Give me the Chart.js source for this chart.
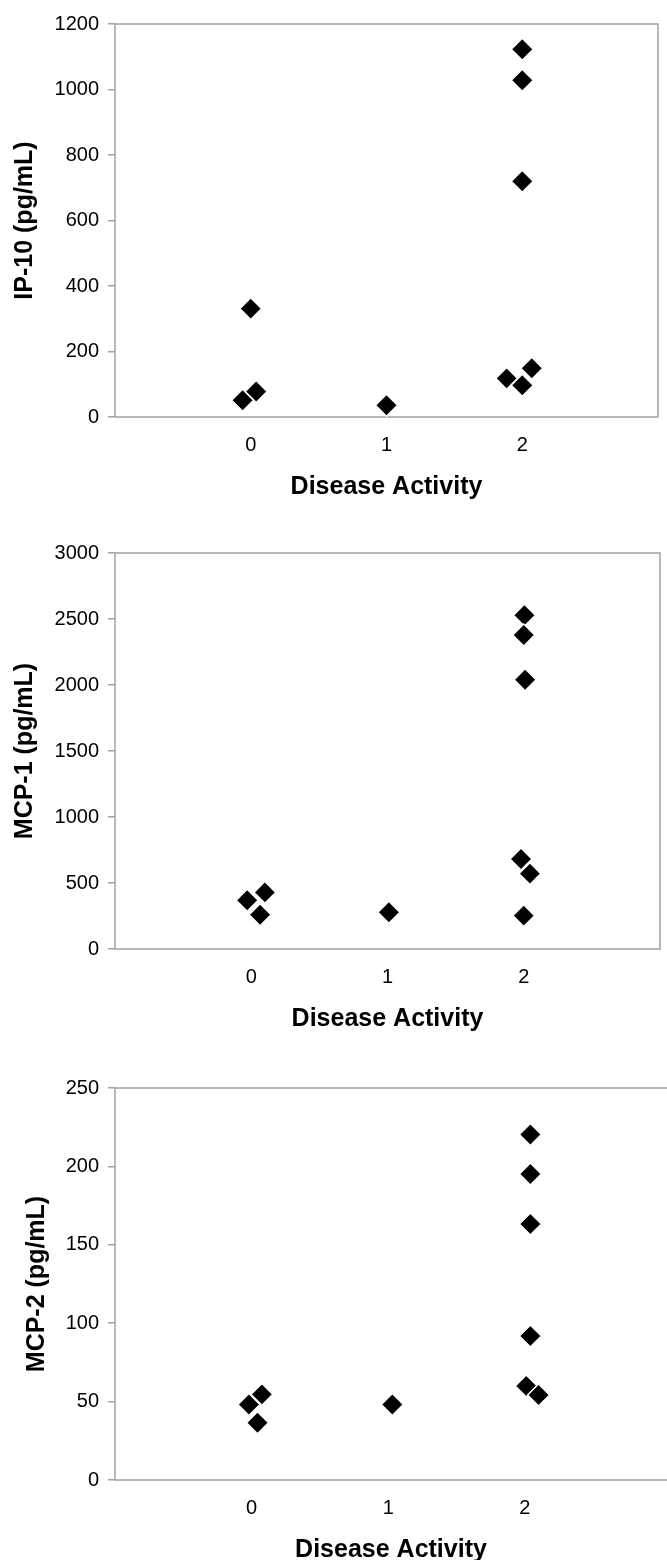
<!DOCTYPE html>
<html>
<head>
<meta charset="utf-8">
<script src="https://cdn.jsdelivr.net/npm/chart.js@4.4.0/dist/chart.umd.min.js"></script>
<style>
  html, body { margin: 0; padding: 0; background: #fff; overflow: hidden; }
  body { width: 667px; height: 1560px; position: relative; }
  .panel { position: absolute; left: 0; }
</style>
</head>
<body>
<div class="panel" style="top:0px"><canvas id="ip10" width="667" height="520"></canvas></div>
<div class="panel" style="top:529px"><canvas id="mcp1" width="667" height="523"></canvas></div>
<div class="panel" style="top:1064px"><canvas id="mcp2" width="667" height="519"></canvas></div>
<script>
'use strict';

// disease activity groups (x) and their tick labels
const activityTicks = [0, 1, 2];

// IP-10 (pg/mL), x is jittered around the group
const ip10X = [-0.06, 0.04, 0.0, 1.0, 2.0, 2.0, 2.0, 1.885, 2.0, 2.07];
const ip10Y = [51, 78, 331, 36, 1123, 1028, 720, 118, 97, 149];
const ip10Ticks = [0, 200, 400, 600, 800, 1000, 1200];

// MCP-1 (pg/mL)
const mcp1X = [-0.03, 0.1, 0.065, 1.01, 2.005, 2.0, 2.01, 1.98, 2.045, 2.0];
const mcp1Y = [369, 429, 260, 278, 2528, 2379, 2040, 682, 571, 253];
const mcp1Ticks = [0, 500, 1000, 1500, 2000, 2500, 3000];

// MCP-2 (pg/mL)
const mcp2X = [-0.02, 0.075, 0.043, 1.03, 2.04, 2.04, 2.04, 2.04, 2.01, 2.10];
const mcp2Y = [48.2, 54.6, 36.5, 48.2, 220.3, 195.2, 163.3, 91.8, 59.9, 54.2];
const mcp2Ticks = [0, 50, 100, 150, 200, 250];

const axisGray = '#a6a0a0';
const tickFont = { family: '"Liberation Sans", Arial, sans-serif', size: 20 };
const titleFont = { family: '"Liberation Sans", Arial, sans-serif', size: 25, weight: 'bold' };

// box round the plot area, drawn under the markers
const plotBox = {
    id: 'plotBox',
    beforeDatasetsDraw: function (chart, args, opts) {
        let a = chart.chartArea;
        let ctx = chart.ctx;
        ctx.save();
        ctx.strokeStyle = opts.color;
        ctx.lineWidth = opts.width;
        ctx.beginPath();
        if (opts.right === false) {
            ctx.moveTo(a.right + 2, a.top);
            ctx.lineTo(a.left, a.top);
            ctx.lineTo(a.left, a.bottom);
            ctx.lineTo(a.right + 2, a.bottom);
        } else {
            ctx.rect(a.left, a.top, a.right - a.left, a.bottom - a.top);
        }
        ctx.stroke();
        ctx.restore();
    },
};

window.buildActivityChart = function (id, xs, ys, yTicks, cfg) {
    let points = xs.map((x, i) => ({ x: x, y: ys[i] }));
    return new Chart(document.getElementById(id), {
        type: 'scatter',
        data: {
            datasets: [{
                data: points,
                pointStyle: 'rectRot',
                pointRadius: 11,
                pointBorderWidth: 1.5,
                backgroundColor: '#000',
                borderColor: '#fff',
                clip: false,
            }],
        },
        options: {
            responsive: false,
            animation: false,
            events: [],
            layout: {
                autoPadding: false,
                padding: { top: 24, right: 667 - cfg.right, left: 0, bottom: 0 },
            },
            plugins: {
                legend: { display: false },
                tooltip: { enabled: false },
                plotBox: { color: axisGray, width: 1.5, right: cfg.rightBorder },
            },
            scales: {
                x: {
                    type: 'linear',
                    min: -1,
                    max: cfg.xMax,
                    afterBuildTicks: s => { s.ticks = activityTicks.map(v => ({ value: v })); },
                    afterFit: s => { s.height = 103; s.paddingLeft = 0; s.paddingRight = 0; },
                    grid: { display: false, drawTicks: false },
                    border: { display: false },
                    ticks: { padding: 16, font: tickFont, color: '#000', callback: v => String(v) },
                    title: {
                        display: true, text: 'Disease Activity', font: titleFont, color: '#000',
                        padding: { top: 0, bottom: 17.5 },
                    },
                },
                y: {
                    min: 0,
                    max: yTicks[yTicks.length - 1],
                    afterBuildTicks: s => { s.ticks = yTicks.map(v => ({ value: v })); },
                    afterFit: s => { s.width = 115; },
                    grid: { drawOnChartArea: false, tickLength: 7, color: axisGray, lineWidth: 1.5 },
                    border: { display: false },
                    ticks: { padding: 9, font: tickFont, color: '#000', callback: v => String(v) },
                    title: {
                        display: true, text: cfg.yTitle, font: titleFont, color: '#000',
                        padding: { top: cfg.yTitleX - 15, bottom: 0 },
                    },
                },
            },
        },
        plugins: [plotBox],
    });
};

buildActivityChart('ip10', ip10X, ip10Y, ip10Ticks,
    { yTitle: 'IP-10 (pg/mL)', right: 658, xMax: 3, yTitleX: 25 });
buildActivityChart('mcp1', mcp1X, mcp1Y, mcp1Ticks,
    { yTitle: 'MCP-1 (pg/mL)', right: 660, xMax: 3, yTitleX: 25 });
buildActivityChart('mcp2', mcp2X, mcp2Y, mcp2Ticks,
    { yTitle: 'MCP-2 (pg/mL)', right: 667, xMax: 3.04, yTitleX: 37, rightBorder: false });
</script>
</body>
</html>
